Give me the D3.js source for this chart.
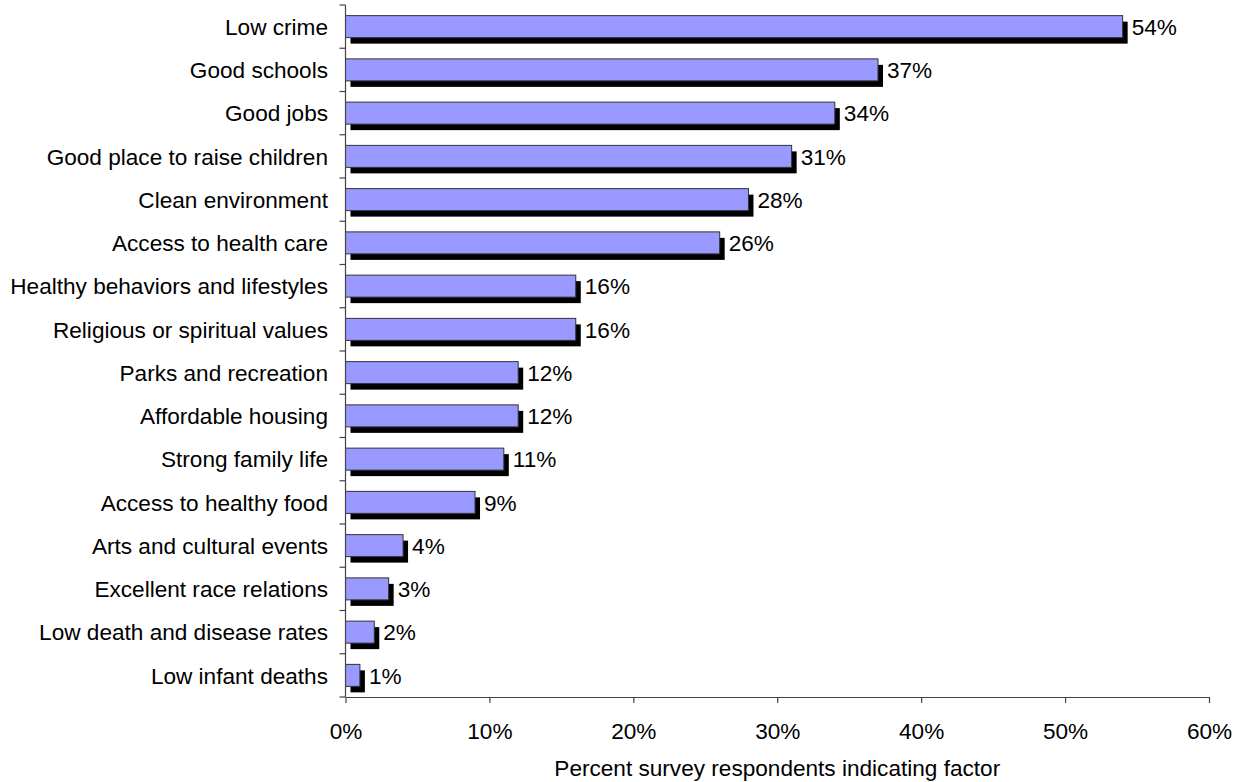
<!DOCTYPE html>
<html>
<head>
<meta charset="utf-8">
<script src="https://cdn.jsdelivr.net/npm/d3@7/dist/d3.min.js"></script>
<style>
  html, body { margin: 0; padding: 0; background: #fff; }
  svg { display: block; }
  text { font-family: "Liberation Sans", Arial, sans-serif; fill: #000; }
</style>
</head>
<body>
<svg id="chart" width="1242" height="782"></svg>
<script>
// Factors named by survey respondents, top to bottom
const categories = [
  "Low crime",
  "Good schools",
  "Good jobs",
  "Good place to raise children",
  "Clean environment",
  "Access to health care",
  "Healthy behaviors and lifestyles",
  "Religious or spiritual values",
  "Parks and recreation",
  "Affordable housing",
  "Strong family life",
  "Access to healthy food",
  "Arts and cultural events",
  "Excellent race relations",
  "Low death and disease rates",
  "Low infant deaths"
];
// Percent of respondents indicating each factor
const percents = [54, 37, 34, 31, 28, 26, 16, 16, 12, 12, 11, 9, 4, 3, 2, 1];
const xTicks = [0, 10, 20, 30, 40, 50, 60];
const xTitle = "Percent survey respondents indicating factor";

const data = categories.map((c, i) => ({ name: c, value: percents[i] }));

const svg = d3.select("#chart");
const plotLeft = 345.5, plotRight = 1209, plotTop = 5, plotBottom = 697;

const x = d3.scaleLinear().domain([0, 60]).range([plotLeft, plotRight]);
const y = d3.scaleBand().domain(categories).range([plotTop, plotBottom]).paddingInner(0).paddingOuter(0);
const barH = 22;
const shadowDx = 5, shadowDy = 6;
const fontSize = 22.6;

const g = svg.append("g");

// Shadows behind bars
g.selectAll("rect.shadow").data(data).enter().append("rect")
  .attr("class", "shadow")
  .attr("x", x(0) + shadowDx)
  .attr("y", d => y(d.name) + (y.bandwidth() - barH) / 2 + shadowDy)
  .attr("width", d => x(d.value) - x(0))
  .attr("height", barH)
  .attr("fill", "#000");

// Bars
g.selectAll("rect.bar").data(data).enter().append("rect")
  .attr("class", "bar")
  .attr("x", x(0))
  .attr("y", d => y(d.name) + (y.bandwidth() - barH) / 2)
  .attr("width", d => x(d.value) - x(0))
  .attr("height", barH)
  .attr("fill", "#9999ff")
  .attr("stroke", "#333")
  .attr("stroke-width", 1);

// Value labels
g.selectAll("text.val").data(data).enter().append("text")
  .attr("class", "val")
  .attr("x", d => x(d.value) + shadowDx + 4)
  .attr("y", d => y(d.name) + y.bandwidth() / 2 + fontSize * 0.36)
  .attr("font-size", fontSize)
  .text(d => d.value + "%");

// Category labels
g.selectAll("text.cat").data(data).enter().append("text")
  .attr("class", "cat")
  .attr("x", 328)
  .attr("y", d => y(d.name) + y.bandwidth() / 2 + fontSize * 0.36)
  .attr("text-anchor", "end")
  .attr("font-size", fontSize)
  .text(d => d.name);

// Y axis line with ticks at category boundaries
const axisColor = "#444";
const yBounds = categories.map(c => y(c)).concat([plotBottom]);
svg.append("line")
  .attr("x1", plotLeft).attr("x2", plotLeft).attr("y1", plotTop).attr("y2", plotBottom)
  .attr("stroke", axisColor).attr("stroke-width", 1.2);
svg.selectAll("line.ytick").data(yBounds).enter().append("line")
  .attr("class", "ytick")
  .attr("x1", plotLeft - 6).attr("x2", plotLeft)
  .attr("y1", d => d).attr("y2", d => d)
  .attr("stroke", axisColor).attr("stroke-width", 1.2);

// X axis
const xAxis = d3.axisBottom(x).tickValues(xTicks).tickFormat(d => d + "%").tickSize(6).tickSizeOuter(0).tickPadding(20);
const xg = svg.append("g").attr("transform", `translate(0,${plotBottom})`).call(xAxis);
xg.select(".domain").attr("stroke", axisColor).attr("stroke-width", 1.2);
xg.selectAll(".tick line").attr("stroke", axisColor).attr("stroke-width", 1.2);
xg.selectAll(".tick text")
  .attr("font-size", fontSize)
  .attr("font-family", "Liberation Sans, Arial, sans-serif")
  .attr("fill", "#000");

// X axis title
svg.append("text")
  .attr("x", (plotLeft + plotRight) / 2)
  .attr("y", 776)
  .attr("text-anchor", "middle")
  .attr("font-size", fontSize)
  .text(xTitle);
</script>
</body>
</html>
